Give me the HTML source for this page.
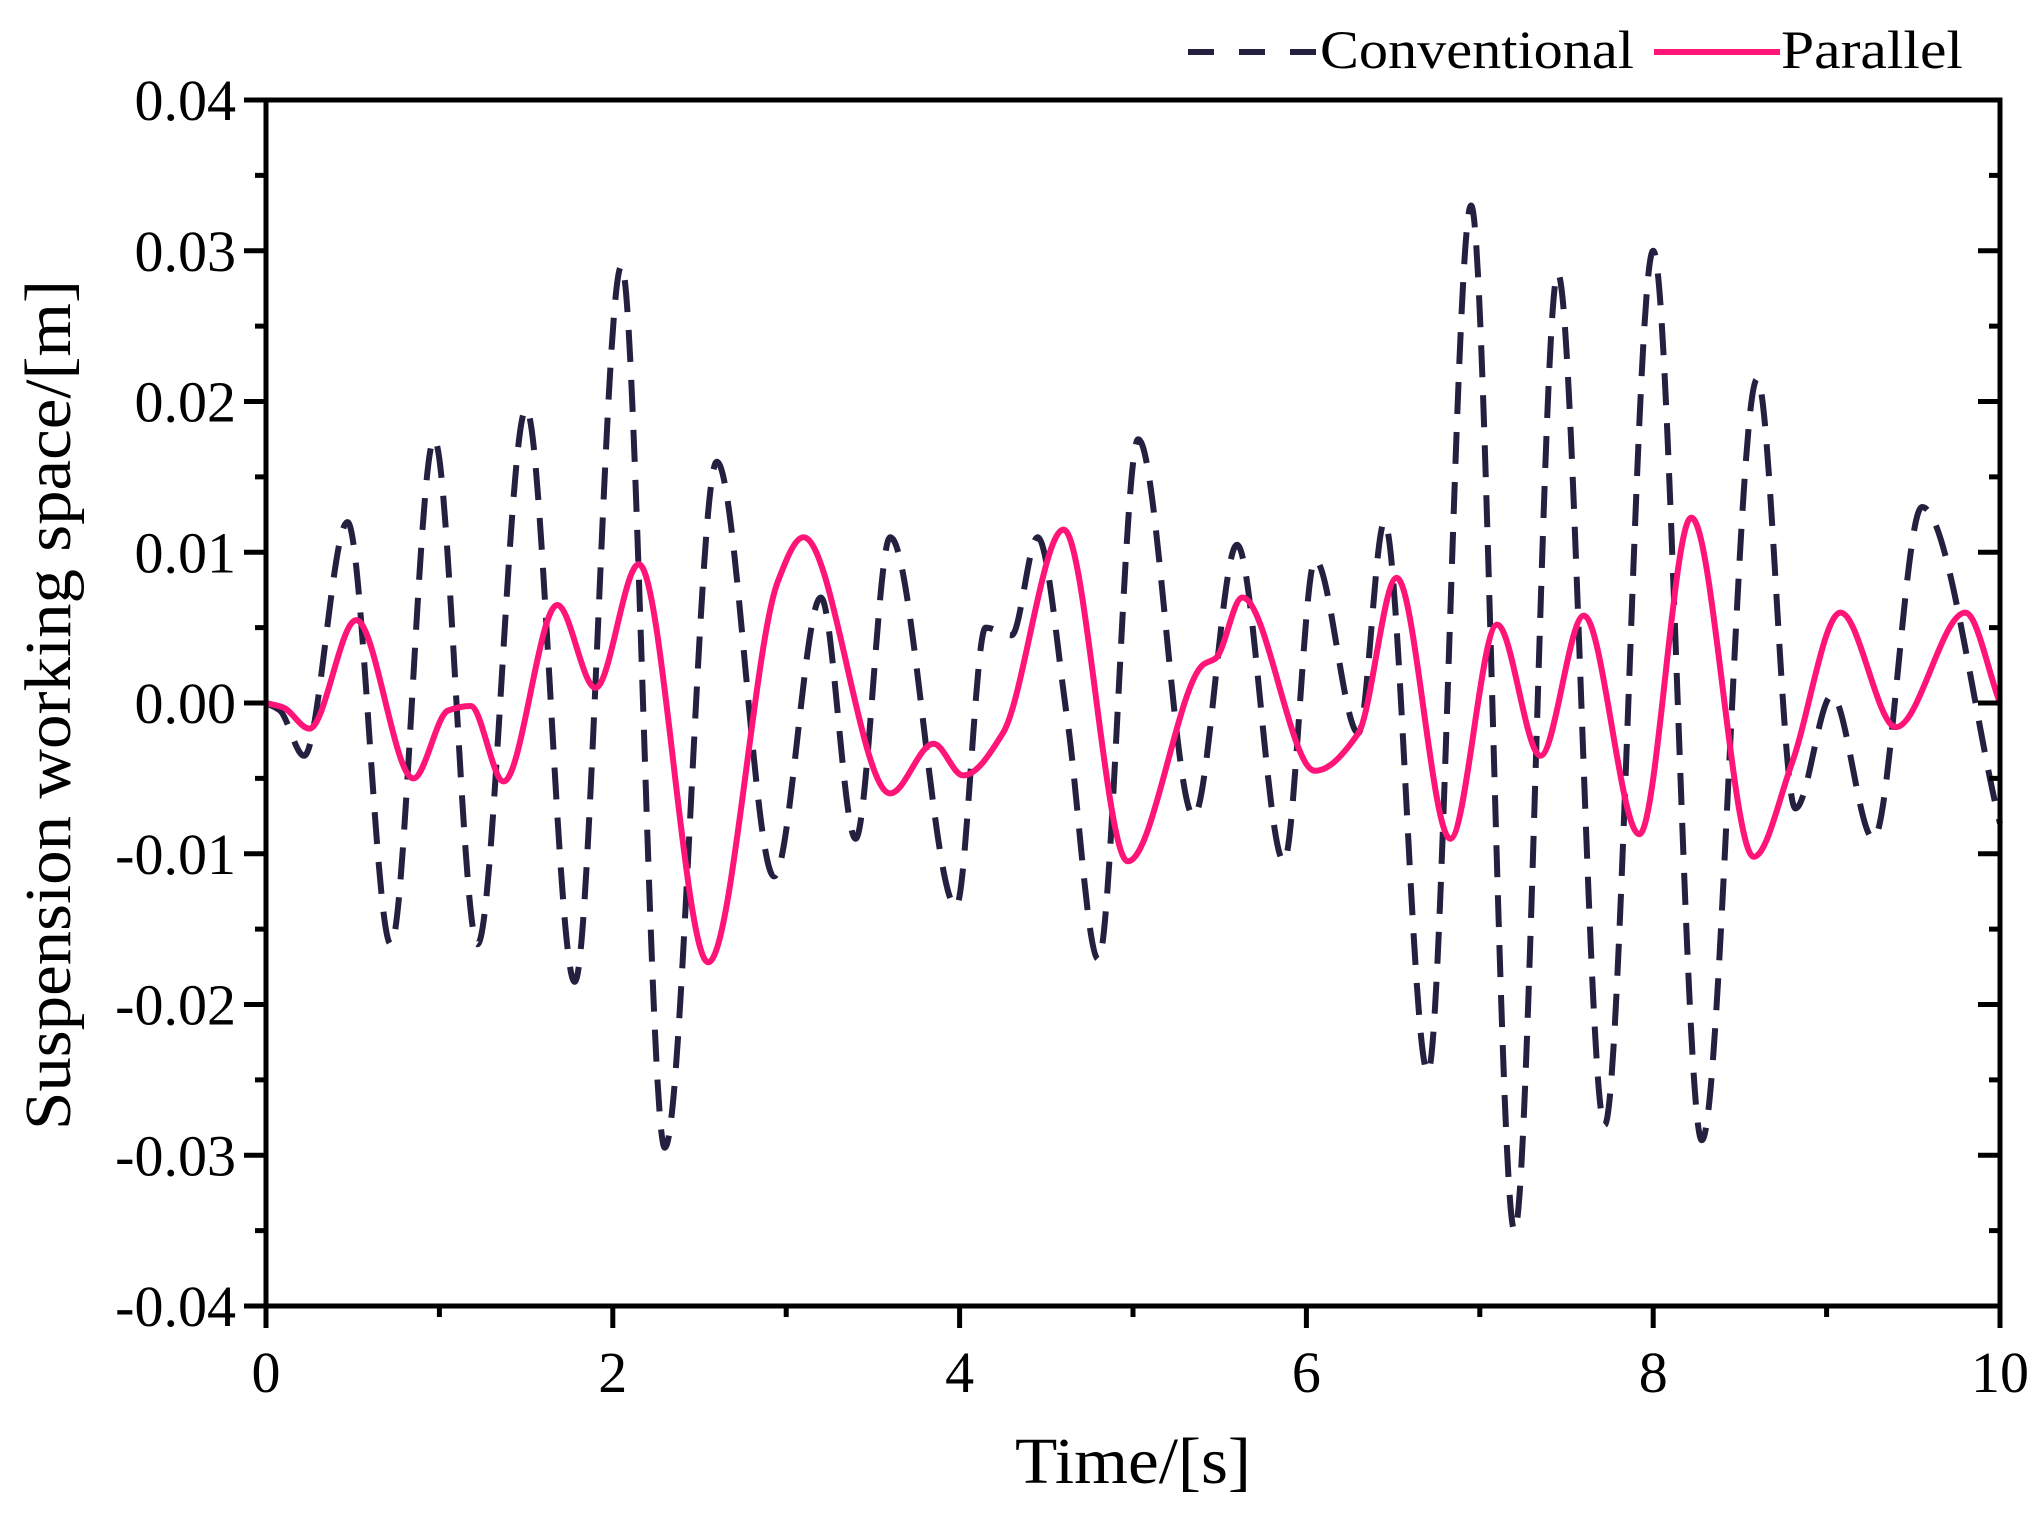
<!DOCTYPE html>
<html><head><meta charset="utf-8"><style>
html,body{margin:0;padding:0;background:#fff;}
svg{display:block;font-family:"Liberation Serif","Times New Roman",serif;}
</style></head><body>
<svg id="chart" width="2042" height="1518" viewBox="0 0 2042 1518" xmlns="http://www.w3.org/2000/svg">
<g id="series"></g>
<g id="axes"></g>
<g>
  <line x1="1188" y1="52" x2="1318" y2="52" stroke="#24203f" stroke-width="6" stroke-dasharray="26 25"/>
  <text x="1320" y="68" font-size="54" textLength="314" lengthAdjust="spacingAndGlyphs">Conventional</text>
  <line x1="1654" y1="52" x2="1780" y2="52" stroke="#ff1477" stroke-width="6"/>
  <text x="1781" y="68" font-size="54" textLength="182" lengthAdjust="spacingAndGlyphs">Parallel</text>
</g>
<text x="1133" y="1483" font-size="66" text-anchor="middle" textLength="236" lengthAdjust="spacingAndGlyphs">Time/[s]</text>
<text transform="translate(70,705) rotate(-90)" font-size="66" text-anchor="middle" textLength="850" lengthAdjust="spacingAndGlyphs">Suspension working space/[m]</text>
</svg>
<script>
const convT = [0,0.08,0.22,0.47,0.72,0.97,1.22,1.5,1.78,2.05,2.3,2.6,2.93,3.2,3.4,3.6,3.98,4.15,4.3,4.45,4.62,4.8,5.03,5.35,5.6,5.87,6.05,6.3,6.45,6.7,6.95,7.2,7.45,7.72,8.0,8.28,8.6,8.82,9.03,9.27,9.55,10];
const convV = [0,-0.0005,-0.0035,0.012,-0.016,0.0175,-0.016,0.0195,-0.0185,0.029,-0.0295,0.016,-0.0115,0.007,-0.009,0.011,-0.0135,0.005,0.0045,0.011,-0.001,-0.017,0.0175,-0.0075,0.0105,-0.0105,0.0095,-0.002,0.012,-0.0245,0.033,-0.035,0.0285,-0.028,0.030,-0.029,0.0215,-0.007,0.0005,-0.009,0.013,-0.008];
const parT = [0,0.1,0.25,0.52,0.85,1.05,1.18,1.37,1.68,1.9,2.15,2.55,2.95,3.1,3.6,3.85,4.02,4.25,4.6,4.97,5.4,5.48,5.63,6.05,6.3,6.52,6.83,7.1,7.35,7.6,7.92,8.22,8.58,8.8,9.08,9.4,9.8,10];
const parV = [0,-0.0003,-0.0017,0.0055,-0.005,-0.0005,-0.0002,-0.0052,0.0065,0.001,0.0092,-0.0172,0.008,0.011,-0.006,-0.0027,-0.0048,-0.002,0.0115,-0.0105,0.0025,0.003,0.007,-0.0045,-0.002,0.0083,-0.009,0.0052,-0.0035,0.0058,-0.0087,0.0123,-0.0102,-0.004,0.006,-0.0016,0.006,0];
const xTicks = [0,2,4,6,8,10];
const yTicks = [-0.04,-0.03,-0.02,-0.01,0,0.01,0.02,0.03,0.04];
const yTickLabels = ["-0.04","-0.03","-0.02","-0.01","0.00","0.01","0.02","0.03","0.04"];

const L=266,R=2000,T=100,B=1306;
const xs = t => L + (t-0)/(10-0)*(R-L);
const ys = v => B - (v+0.04)/0.08*(B-T);
const NS="http://www.w3.org/2000/svg";

function monoPath(tx, vy){
  const n=tx.length, d=[], m=new Array(n).fill(0);
  for(let i=0;i<n-1;i++) d.push((vy[i+1]-vy[i])/(tx[i+1]-tx[i]));
  m[0]=d[0]; m[n-1]=d[n-2];
  for(let i=1;i<n-1;i++){ m[i] = (d[i-1]*d[i]<=0)?0:(2/(1/d[i-1]+1/d[i])); }
  let s="M"+xs(tx[0]).toFixed(1)+","+ys(vy[0]).toFixed(1);
  for(let i=0;i<n-1;i++){
    const h=tx[i+1]-tx[i];
    const c1t=tx[i]+h/3, c1v=vy[i]+m[i]*h/3;
    const c2t=tx[i+1]-h/3, c2v=vy[i+1]-m[i+1]*h/3;
    s+=" C"+xs(c1t).toFixed(1)+","+ys(c1v).toFixed(1)+" "+xs(c2t).toFixed(1)+","+ys(c2v).toFixed(1)+" "+xs(tx[i+1]).toFixed(1)+","+ys(vy[i+1]).toFixed(1);
  }
  return s;
}
const sg=document.getElementById('series');
const p1=document.createElementNS(NS,'path');


p1.setAttribute('d',monoPath(convT,convV));
p1.setAttribute('fill','none');p1.setAttribute('stroke','#24203f');p1.setAttribute('stroke-width','6');p1.setAttribute('stroke-dasharray','32 18');
sg.appendChild(p1);
const p2=document.createElementNS(NS,'path');


p2.setAttribute('d',monoPath(parT,parV));
p2.setAttribute('fill','none');p2.setAttribute('stroke','#ff1477');p2.setAttribute('stroke-width','6');
sg.appendChild(p2);

const ag=document.getElementById('axes');
function ln(x1,y1,x2,y2,name){
  const l=document.createElementNS(NS,'line');
  
  
  l.setAttribute('x1',x1);l.setAttribute('y1',y1);l.setAttribute('x2',x2);l.setAttribute('y2',y2);
  l.setAttribute('stroke','#000');l.setAttribute('stroke-width','5');
  ag.appendChild(l);
}
function tx(x,y,str,anchor,name){
  const t=document.createElementNS(NS,'text');
  
  
  t.setAttribute('x',x);t.setAttribute('y',y);t.setAttribute('font-size','58');t.setAttribute('text-anchor',anchor);
  t.textContent=str;ag.appendChild(t);
}
const fr=document.createElementNS(NS,'rect');


fr.setAttribute('x',L);fr.setAttribute('y',T);fr.setAttribute('width',R-L);fr.setAttribute('height',B-T);
fr.setAttribute('fill','none');fr.setAttribute('stroke','#000');fr.setAttribute('stroke-width','5');
ag.appendChild(fr);
xTicks.forEach((v,i)=>{
  ln(xs(v),B,xs(v),B+22,'x-major-tick');
  if(i<xTicks.length-1) ln(xs(v+1),B,xs(v+1),B+11,'x-minor-tick');
  tx(xs(v),B+86,String(v),'middle','x-tick-label');
});
yTicks.forEach((v,i)=>{
  ln(L-22,ys(v),L,ys(v),'y-major-tick');
  ln(R-22,ys(v),R,ys(v),'y-right-major-tick');
  if(i<yTicks.length-1){
    ln(L-11,ys(v+0.005),L,ys(v+0.005),'y-minor-tick');
    ln(R-11,ys(v+0.005),R,ys(v+0.005),'y-right-minor-tick');
  }
  tx(L-30,ys(v)+20,yTickLabels[i],'end','y-tick-label');
});
</script>
</body></html>
